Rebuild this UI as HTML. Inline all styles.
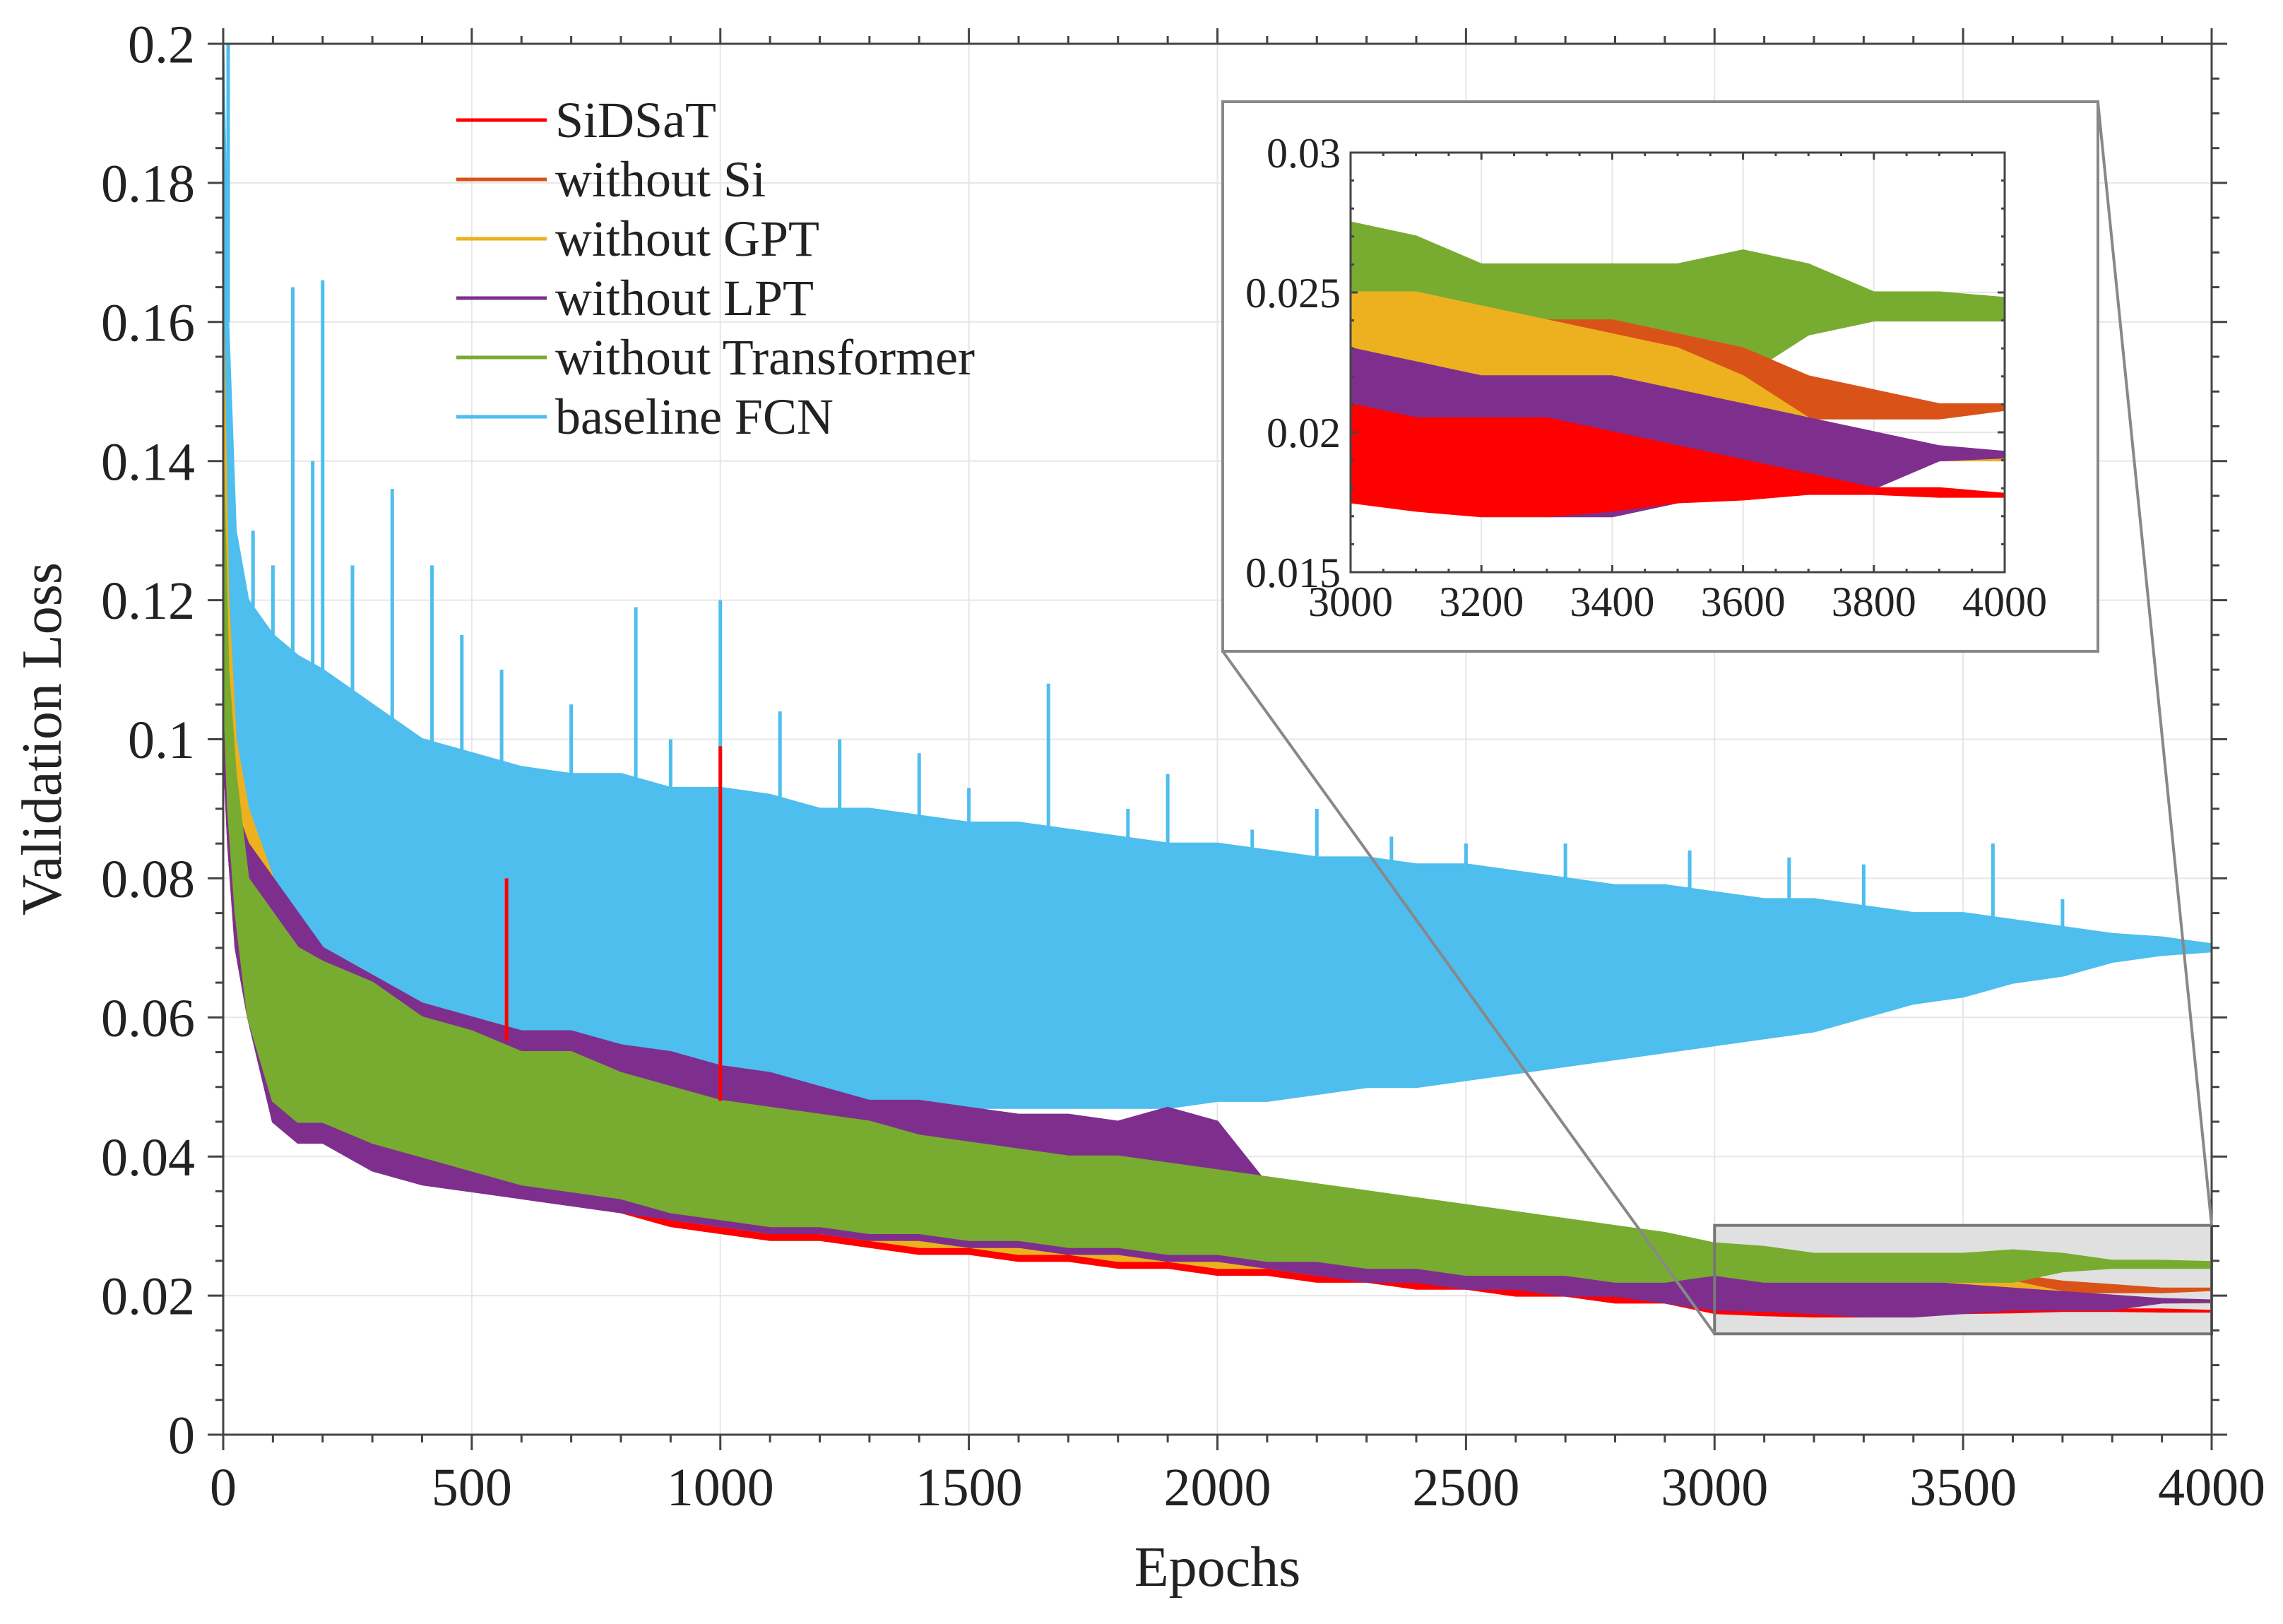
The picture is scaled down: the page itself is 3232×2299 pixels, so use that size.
<!DOCTYPE html>
<html><head><meta charset="utf-8"><style>
html,body{margin:0;padding:0;background:#fff;}
svg{display:block;font-family:"Liberation Serif",serif;}
</style></head><body>
<svg id="chart" width="3232" height="2299" viewBox="0 0 3232 2299" xmlns="http://www.w3.org/2000/svg">
<rect x="0" y="0" width="3232" height="2299" fill="#fff"/>
<g id="main"></g>
<g id="inset"></g>
<g id="legend"></g>
</svg>
<script>
const epochs = [0,10,25,50,100,150,200,300,400,500,600,700,800,900,1000,1100,1200,1300,1400,1500,1600,1700,1800,1900,2000,2100,2200,2300,2400,2500,2600,2700,2800,2900,3000,3100,3200,3300,3400,3500,3600,3700,3800,3900,4000];
const seriesNames = ["SiDSaT","without Si","without GPT","without LPT","without Transformer","baseline FCN"];
const seriesColors = ["#ff0000","#d95319","#edb120","#7e2f8e","#77ac30","#4dbeee"];
const sidsatHi = [0.12,0.10,0.09,0.08,0.072,0.068,0.065,0.062,0.06,0.058,0.056,0.054,0.052,0.05,0.048,0.047,0.046,0.045,0.043,0.042,0.04,0.039,0.038,0.037,0.035,0.034,0.033,0.032,0.030,0.029,0.027,0.026,0.025,0.024,0.021,0.0205,0.0205,0.0205,0.020,0.0195,0.019,0.0185,0.018,0.018,0.0178];
const sidsatLo = [0.10,0.085,0.07,0.06,0.05,0.045,0.045,0.04,0.038,0.036,0.034,0.033,0.032,0.030,0.029,0.028,0.028,0.027,0.026,0.026,0.025,0.025,0.024,0.024,0.023,0.023,0.022,0.022,0.021,0.021,0.020,0.020,0.019,0.019,0.0175,0.0172,0.017,0.017,0.0172,0.0175,0.0176,0.0178,0.0178,0.0177,0.0177];
const noSiHi = [0.13,0.11,0.095,0.085,0.075,0.07,0.066,0.063,0.06,0.058,0.056,0.054,0.052,0.05,0.048,0.047,0.046,0.045,0.044,0.042,0.041,0.040,0.039,0.038,0.037,0.036,0.035,0.034,0.033,0.032,0.031,0.030,0.029,0.028,0.025,0.025,0.024,0.024,0.024,0.0235,0.023,0.022,0.0215,0.021,0.021];
const noSiLo = [0.11,0.09,0.075,0.062,0.05,0.046,0.045,0.04,0.038,0.037,0.035,0.034,0.033,0.031,0.030,0.029,0.029,0.028,0.027,0.027,0.026,0.026,0.025,0.025,0.024,0.024,0.023,0.023,0.022,0.022,0.021,0.021,0.020,0.020,0.020,0.020,0.020,0.020,0.020,0.0205,0.0205,0.0205,0.0205,0.0205,0.0208];
const noGptHi = [0.16,0.12,0.1,0.09,0.08,0.074,0.07,0.066,0.062,0.06,0.058,0.056,0.054,0.052,0.05,0.048,0.047,0.046,0.045,0.043,0.041,0.040,0.039,0.038,0.037,0.036,0.035,0.034,0.033,0.032,0.031,0.030,0.029,0.028,0.025,0.025,0.0245,0.024,0.0235,0.023,0.022,0.0205,0.0195,0.0193,0.0192];
const noGptLo = [0.11,0.09,0.075,0.062,0.05,0.046,0.045,0.04,0.038,0.037,0.035,0.034,0.033,0.031,0.030,0.029,0.029,0.028,0.027,0.027,0.026,0.026,0.025,0.025,0.024,0.024,0.023,0.023,0.022,0.022,0.021,0.021,0.020,0.020,0.019,0.019,0.019,0.019,0.019,0.0188,0.0185,0.019,0.019,0.019,0.019];
const noLptHi = [0.12,0.1,0.09,0.085,0.08,0.075,0.07,0.066,0.062,0.06,0.058,0.058,0.056,0.055,0.053,0.052,0.05,0.048,0.048,0.047,0.046,0.046,0.045,0.047,0.045,0.036,0.034,0.033,0.032,0.031,0.030,0.029,0.028,0.027,0.023,0.0225,0.022,0.022,0.022,0.0215,0.021,0.0205,0.020,0.0195,0.0193];
const noLptLo = [0.1,0.085,0.07,0.06,0.045,0.042,0.042,0.038,0.036,0.035,0.034,0.033,0.032,0.031,0.030,0.029,0.029,0.028,0.028,0.027,0.027,0.026,0.026,0.025,0.025,0.024,0.023,0.022,0.022,0.021,0.021,0.020,0.020,0.019,0.018,0.0178,0.0175,0.017,0.017,0.0175,0.018,0.018,0.018,0.019,0.0191];
const noTrHi = [0.14,0.11,0.095,0.08,0.075,0.07,0.068,0.065,0.06,0.058,0.055,0.055,0.052,0.05,0.048,0.047,0.046,0.045,0.043,0.042,0.041,0.04,0.04,0.039,0.038,0.037,0.036,0.035,0.034,0.033,0.032,0.031,0.030,0.029,0.0275,0.027,0.026,0.026,0.026,0.026,0.0265,0.026,0.025,0.025,0.0248];
const noTrLo = [0.11,0.09,0.075,0.06,0.048,0.045,0.045,0.042,0.04,0.038,0.036,0.035,0.034,0.032,0.031,0.030,0.030,0.029,0.029,0.028,0.028,0.027,0.027,0.026,0.026,0.025,0.025,0.024,0.024,0.023,0.023,0.023,0.022,0.022,0.023,0.022,0.022,0.022,0.022,0.022,0.022,0.0235,0.024,0.024,0.024];
const fcnHi = [0.2,0.16,0.13,0.12,0.115,0.112,0.11,0.105,0.1,0.098,0.096,0.095,0.095,0.093,0.093,0.092,0.09,0.09,0.089,0.088,0.088,0.087,0.086,0.085,0.085,0.084,0.083,0.083,0.082,0.082,0.081,0.080,0.079,0.079,0.078,0.077,0.077,0.076,0.075,0.075,0.074,0.073,0.072,0.0715,0.0705];
const fcnLo = [0.12,0.10,0.085,0.075,0.07,0.065,0.062,0.058,0.055,0.053,0.052,0.05,0.05,0.049,0.048,0.048,0.047,0.047,0.047,0.047,0.047,0.047,0.047,0.047,0.048,0.048,0.049,0.05,0.05,0.051,0.052,0.053,0.054,0.055,0.056,0.057,0.058,0.06,0.062,0.063,0.065,0.066,0.068,0.069,0.0695];
const fcnSpikeEpochs = [10,60,100,140,180,200,260,340,420,480,560,700,830,900,1000,1120,1240,1400,1500,1660,1820,1900,2070,2200,2350,2500,2700,2950,3150,3300,3560,3700];
const fcnSpikeValues = [0.2,0.13,0.125,0.165,0.14,0.166,0.125,0.136,0.125,0.115,0.11,0.105,0.119,0.1,0.12,0.104,0.1,0.098,0.093,0.108,0.09,0.095,0.087,0.09,0.086,0.085,0.085,0.084,0.083,0.082,0.085,0.077];
const redSpikeEpochs = [1000,570];
const redSpikeValues = [0.099,0.08];
const mainXTicks = [0,500,1000,1500,2000,2500,3000,3500,4000];
const mainYTicks = [0,0.02,0.04,0.06,0.08,0.1,0.12,0.14,0.16,0.18,0.2];
const mainYLabels = ["0","0.02","0.04","0.06","0.08","0.1","0.12","0.14","0.16","0.18","0.2"];
const insetXTicks = [3000,3200,3400,3600,3800,4000];
const insetYTicks = [0.015,0.02,0.025,0.03];
const insetYLabels = ["0.015","0.02","0.025","0.03"];

const NS="http://www.w3.org/2000/svg";
const his=[sidsatHi,noSiHi,noGptHi,noLptHi,noTrHi,fcnHi];
const los=[sidsatLo,noSiLo,noGptLo,noLptLo,noTrLo,fcnLo];
function mk(tag,attrs,parent){const e=document.createElementNS(NS,tag);for(const k in attrs)e.setAttribute(k,attrs[k]);parent.appendChild(e);return e;}

const M={l:316,r:3131,t:62,b:2031,x0:0,x1:4000,y0:0,y1:0.2};
const I={l:1912,r:2838,t:216,b:810,x0:3000,x1:4000,y0:0.015,y1:0.03};
function sx(A,v){return A.l+(v-A.x0)/(A.x1-A.x0)*(A.r-A.l);}
function sy(A,v){return A.b-(v-A.y0)/(A.y1-A.y0)*(A.b-A.t);}
function interp(arr,e){for(let j=0;j<epochs.length-1;j++){if(e<=epochs[j+1]){const f=(e-epochs[j])/(epochs[j+1]-epochs[j]);return arr[j]+f*(arr[j+1]-arr[j]);}}return arr[arr.length-1];}

function grid(A,g,xt,yt){
  xt.forEach(v=>{const l=mk('line',{x1:sx(A,v),x2:sx(A,v),y1:A.t,y2:A.b,stroke:'#e6e6e6','stroke-width':2},g);
    
    });
  yt.forEach(v=>{const l=mk('line',{x1:A.l,x2:A.r,y1:sy(A,v),y2:sy(A,v),stroke:'#e6e6e6','stroke-width':2},g);
    
    });
}
function frame(A,g,xt,yt,yl,xminor,yminor,fs,tl,outward,xlOff,ylOff){
  const d=outward?1:-1;
  const f=mk('rect',{x:A.l,y:A.t,width:A.r-A.l,height:A.b-A.t,fill:'none',stroke:'#444','stroke-width':3},g);
  
  
  for(let v=A.x0;v<=A.x1+1e-9;v+=xminor){const maj=xt.some(t=>Math.abs(t-v)<1e-6);const L=maj?tl:tl/2;const x=sx(A,v);
    mk('line',{x1:x,x2:x,y1:A.b,y2:A.b+d*L,stroke:'#444','stroke-width':3},g);
    mk('line',{x1:x,x2:x,y1:A.t,y2:A.t-d*L,stroke:'#444','stroke-width':3},g);}
  for(let k=0;;k++){const v=A.y0+k*yminor;if(v>A.y1+1e-9)break;const maj=yt.some(t=>Math.abs(t-v)<1e-7);const L=maj?tl:tl/2;const y=sy(A,v);
    mk('line',{x1:A.l,x2:A.l-d*L,y1:y,y2:y,stroke:'#444','stroke-width':3},g);
    mk('line',{x1:A.r,x2:A.r+d*L,y1:y,y2:y,stroke:'#444','stroke-width':3},g);}
  xt.forEach(v=>{const t=mk('text',{x:sx(A,v),y:A.b+xlOff,'font-size':fs,'text-anchor':'middle',fill:'#222'},g);t.textContent=String(v);
    
    });
  yt.forEach((v,i)=>{const t=mk('text',{x:A.l-ylOff,y:sy(A,v)+fs*0.35,'font-size':fs,'text-anchor':'end',fill:'#222'},g);t.textContent=yl[i];
    
    });
}
function band(A,g,i,xmin,sw,op){
  const pts=[];const idx=[];
  epochs.forEach((e,j)=>{if(e>=xmin)idx.push(j);});
  idx.forEach(j=>pts.push(sx(A,epochs[j]).toFixed(1)+','+sy(A,Math.min(his[i][j],A.y1+0.002)).toFixed(1)));
  idx.slice().reverse().forEach(j=>pts.push(sx(A,epochs[j]).toFixed(1)+','+sy(A,Math.max(los[i][j],A.y0-0.001)).toFixed(1)));
  const p=mk('polygon',{points:pts.join(' '),fill:seriesColors[i],'fill-opacity':op,stroke:seriesColors[i],'stroke-width':sw,'stroke-linejoin':'round'},g);
  
  
}
function spikes(A,g,i,es,vs){
  es.forEach((e,k)=>{const base=interp(his[i],e);
    const l=mk('line',{x1:sx(A,e),x2:sx(A,e),y1:sy(A,base),y2:sy(A,vs[k]),stroke:seriesColors[i],'stroke-width':5},g);
    
    });
}

const gm=document.getElementById('main');
grid(M,gm,mainXTicks,mainYTicks);
const zr=mk('rect',{x:sx(M,3000),y:sy(M,0.0301),width:sx(M,4000)-sx(M,3000),height:sy(M,0.0145)-sy(M,0.0301),fill:'#e0e0e0'},gm);


band(M,gm,5,0,3,1);
spikes(M,gm,5,fcnSpikeEpochs,fcnSpikeValues);
[0,1,2,3,4].forEach(i=>band(M,gm,i,0,3,1));
spikes(M,gm,0,redSpikeEpochs,redSpikeValues);
const zb=mk('rect',{x:sx(M,3000),y:sy(M,0.0301),width:sx(M,4000)-sx(M,3000),height:sy(M,0.0145)-sy(M,0.0301),fill:'none',stroke:'#777','stroke-width':4},gm);


frame(M,gm,mainXTicks,mainYTicks,mainYLabels,100,0.005,76,22,true,100,40);
const c1=mk('line',{x1:1731,y1:922,x2:sx(M,3000),y2:sy(M,0.0145),stroke:'#888','stroke-width':4},gm);


const c2=mk('line',{x1:2970,y1:145,x2:sx(M,4000),y2:sy(M,0.0301),stroke:'#888','stroke-width':4},gm);


const xl=mk('text',{x:(M.l+M.r)/2,y:2245,'font-size':80,'text-anchor':'middle',fill:'#222'},gm);xl.textContent='Epochs';


const yla=mk('text',{x:0,y:0,'font-size':80,'text-anchor':'middle',fill:'#222',transform:'translate(86,1046) rotate(-90)'},gm);yla.textContent='Validation Loss';



const gi=document.getElementById('inset');
const ib=mk('rect',{x:1731,y:144,width:1239,height:778,fill:'#fff',stroke:'#888','stroke-width':4},gi);


grid(I,gi,insetXTicks,insetYTicks);
const clip=mk('clipPath',{id:'ic'},gi);mk('rect',{x:I.l,y:I.t,width:I.r-I.l,height:I.b-I.t},clip);
const gic=mk('g',{'clip-path':'url(#ic)'},gi);


[4,1,2,3,0].forEach(i=>band(I,gic,i,3000,3,1));
frame(I,gi,insetXTicks,insetYTicks,insetYLabels,50,0.001,60,10,false,62,14);

const gl=document.getElementById('legend');
seriesNames.forEach((n,i)=>{const y=170+i*84;
  const ln=mk('line',{x1:646,x2:774,y1:y,y2:y,stroke:seriesColors[i],'stroke-width':5},gl);
  
  
  const t=mk('text',{x:786,y:y+24,'font-size':72,fill:'#222'},gl);t.textContent=n;
  
  });
</script>
</body></html>
